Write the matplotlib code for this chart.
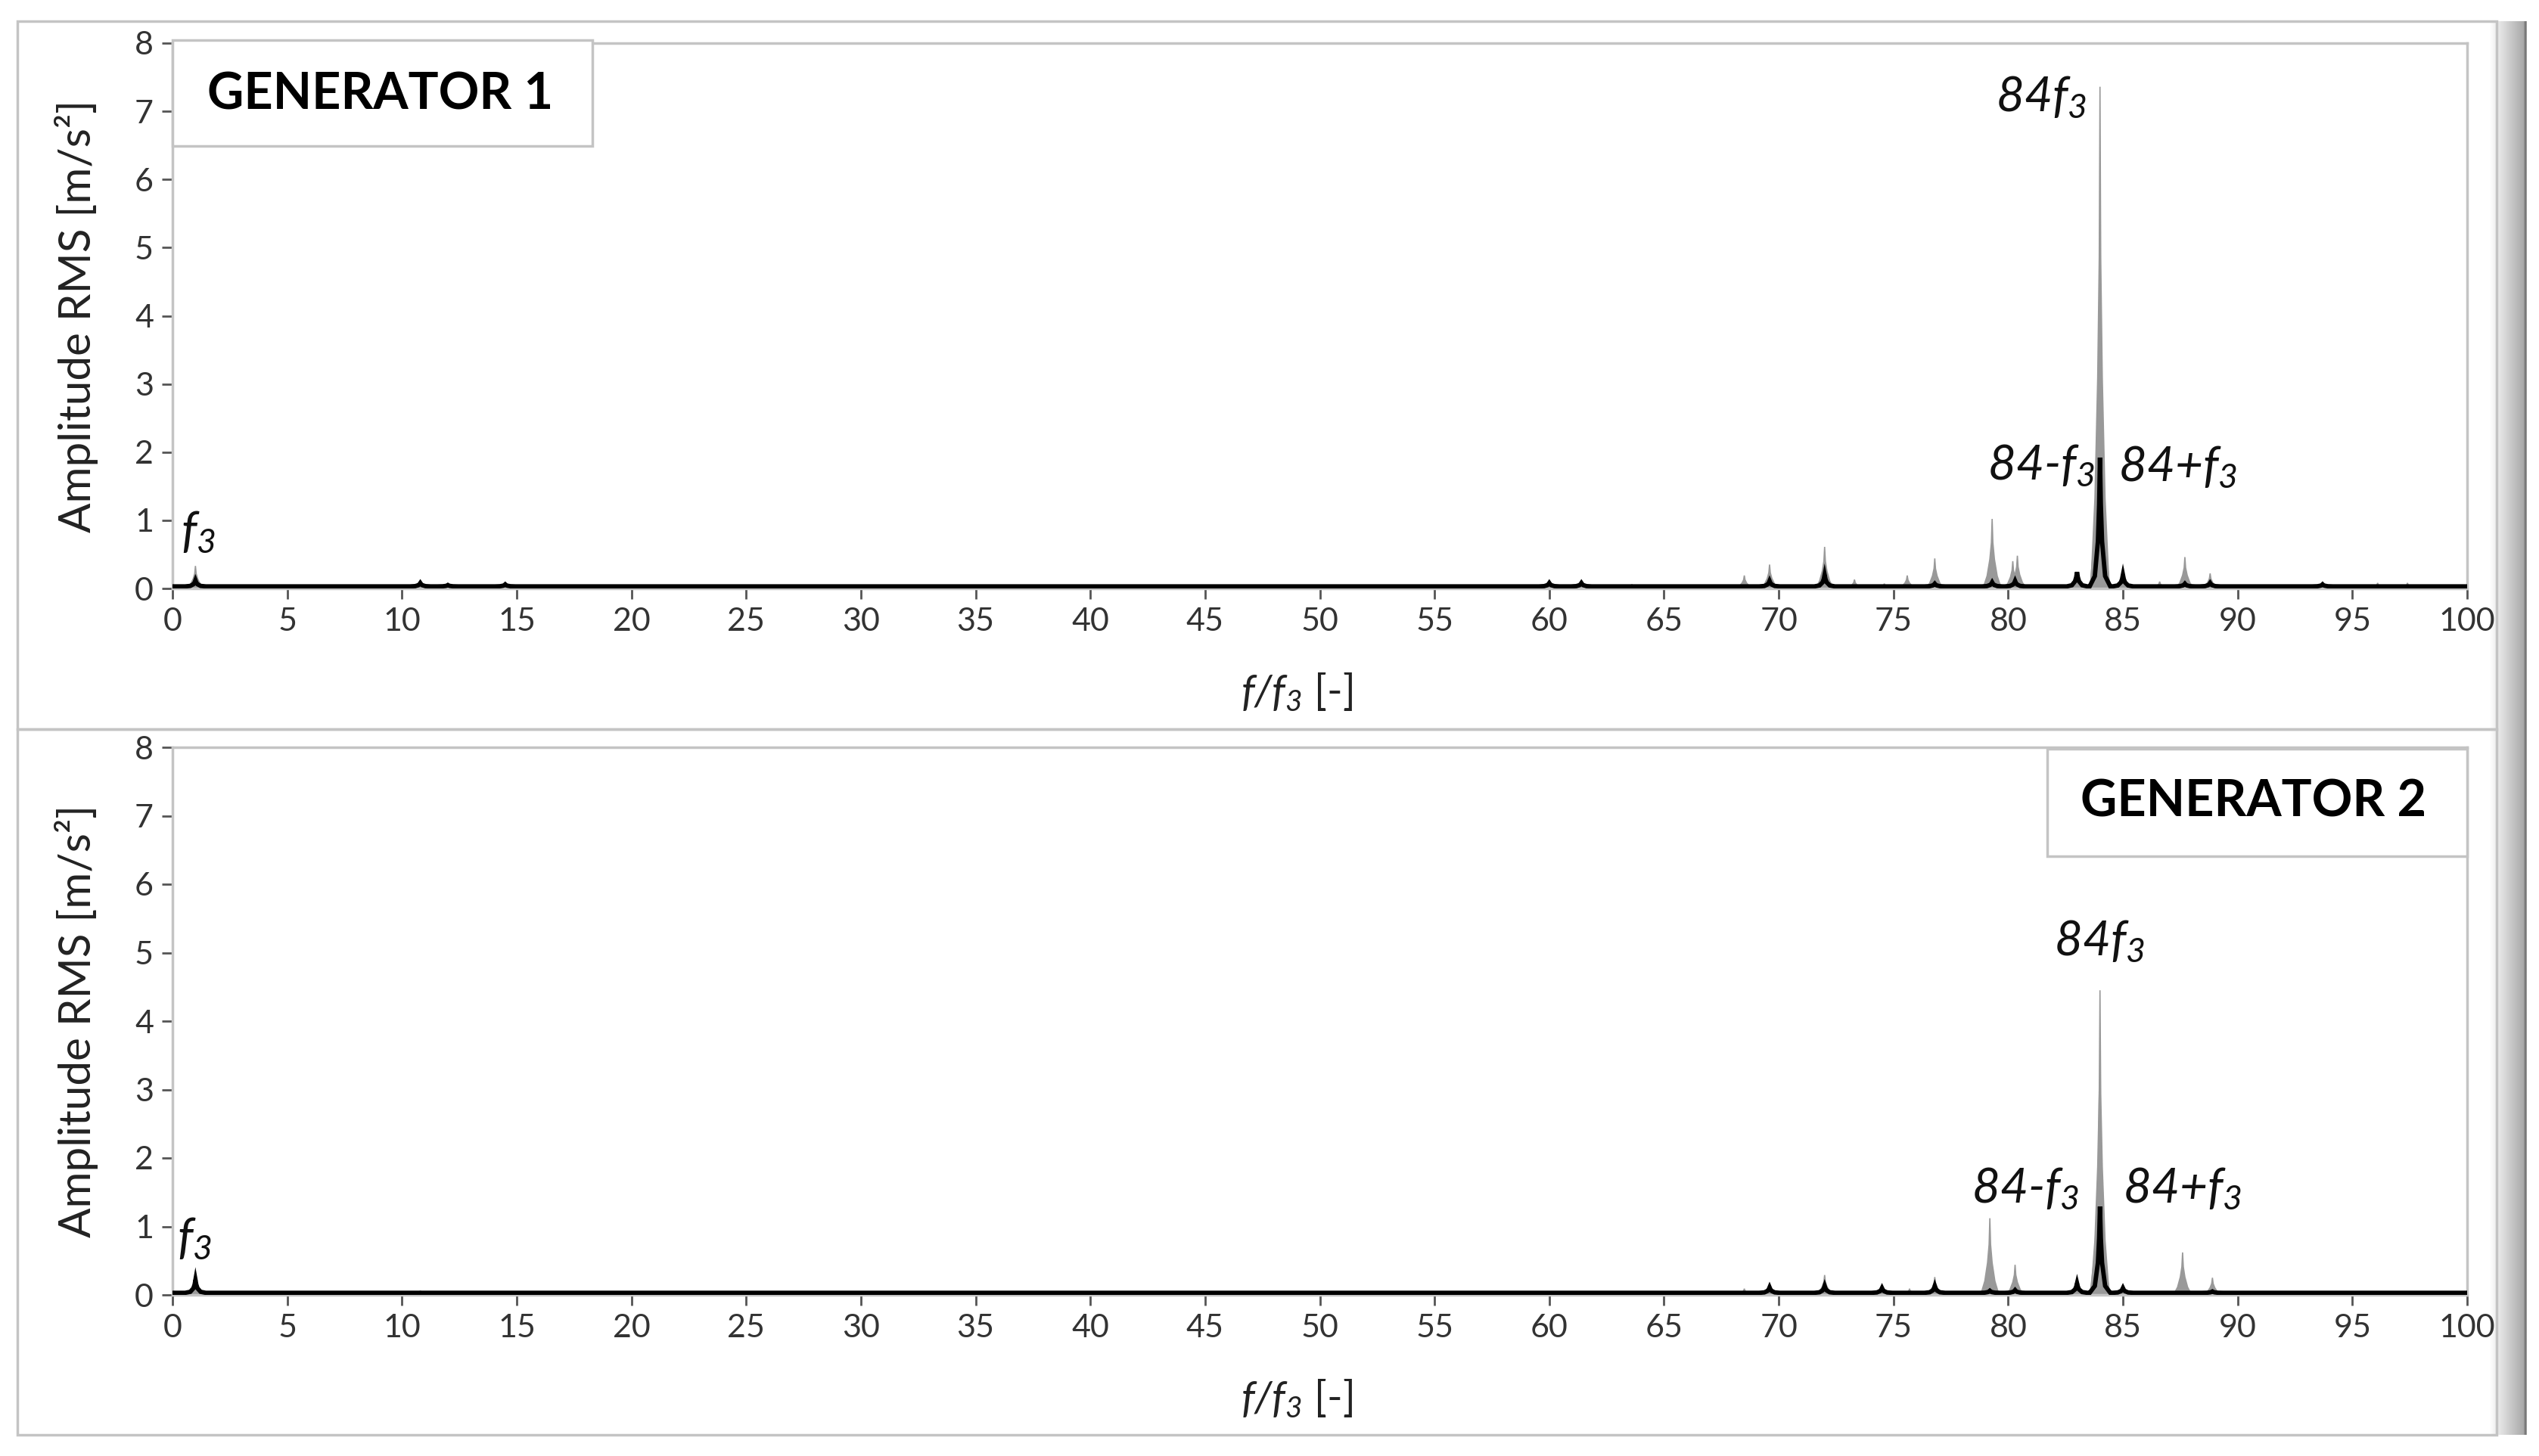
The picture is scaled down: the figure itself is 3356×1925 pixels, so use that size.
import numpy as np
import matplotlib
matplotlib.use("Agg")
import matplotlib.pyplot as plt
from matplotlib.patches import Rectangle

plt.rcParams["font.family"] = ["Lato", "DejaVu Sans"]
plt.rcParams["mathtext.fontset"] = "custom"
plt.rcParams["mathtext.it"] = "Lato:italic"
plt.rcParams["mathtext.rm"] = "Lato:italic"
plt.rcParams["mathtext.sf"] = "Lato:italic"

# ---- data (peak frequency f/f3, RMS amplitude m/s^2) ----
gen1_gray_f = [1.0, 2.0, 3.7, 7.3, 10.8, 12.0, 14.5, 60.0, 61.4, 63.6, 65.0, 67.0,
               68.5, 69.6, 72.0, 73.3, 74.6, 75.6, 76.8, 78.4, 79.3, 80.2, 80.4,
               81.9, 83.0, 83.97, 84.0, 84.04, 85.0, 86.6, 87.7, 88.8, 90.1,
               91.2, 93.7, 96.1, 97.4]
gen1_gray_a = [0.33, 0.05, 0.04, 0.03, 0.10, 0.07, 0.09, 0.10, 0.10, 0.06, 0.05, 0.04,
               0.19, 0.35, 0.61, 0.13, 0.07, 0.19, 0.44, 0.04, 1.02, 0.40, 0.48,
               0.05, 0.24, 4.14, 7.36, 2.82, 0.20, 0.10, 0.46, 0.22, 0.04,
               0.05, 0.10, 0.08, 0.08]
gen1_black_f = [1.0, 10.8, 12.0, 14.5, 60.0, 61.4, 69.6, 72.0, 76.8, 79.3, 80.3,
                83.0, 84.0, 85.0, 87.7, 88.8, 93.7]
gen1_black_a = [0.12, 0.08, 0.05, 0.06, 0.08, 0.08, 0.11, 0.20, 0.07, 0.09, 0.11,
                0.24, 1.92, 0.20, 0.07, 0.08, 0.06]

gen2_gray_f = [1.0, 2.0, 3.7, 7.3, 10.8, 14.5, 60.0, 61.3, 63.6, 64.8, 68.5, 69.6,
               72.0, 73.3, 74.5, 75.7, 76.8, 79.2, 80.3, 82.0, 83.0, 83.97, 84.0,
               84.04, 85.0, 87.6, 88.9, 91.3, 93.7]
gen2_gray_a = [0.30, 0.04, 0.04, 0.04, 0.06, 0.04, 0.05, 0.05, 0.05, 0.05, 0.09, 0.17,
               0.29, 0.05, 0.13, 0.09, 0.26, 1.12, 0.44, 0.04, 0.14, 2.98, 4.45,
               1.97, 0.08, 0.62, 0.25, 0.03, 0.03]
gen2_black_f = [1.0, 69.6, 72.0, 74.5, 76.8, 79.2, 80.3, 83.0, 84.0, 85.0, 88.9]
gen2_black_a = [0.22, 0.11, 0.13, 0.10, 0.13, 0.06, 0.07, 0.17, 1.29, 0.10, 0.05]

x_ticks = list(range(0, 101, 5))
y_ticks = list(range(0, 9))

# peak shape used to draw each spectral line
gray_px = np.array([-1, -0.55, -0.25, -0.08, 0, 0.08, 0.25, 0.55, 1]) * 0.4
gray_py = np.array([0, 0.18, 0.42, 0.66, 1, 0.66, 0.42, 0.18, 0])
black_px = np.array([-1, -0.5, -0.2, -0.08, 0, 0.08, 0.2, 0.5, 1]) * 0.45
black_py = np.array([0, 0.08, 0.35, 0.64, 1, 0.64, 0.35, 0.08, 0])
BASE = 0.03

GRAY = "#999999"
FRAME = "#c4c4c4"
TICKC = "#333333"

W, H = 3356, 1925
fig = plt.figure(figsize=(W / 100, H / 100), dpi=100)


def fx(px):
    return px / W


def fy(py):
    return 1 - py / H


# outer panel frames
for top, bot in [(28, 964), (964, 1897)]:
    fig.patches.append(Rectangle((fx(23), fy(bot)), fx(3300 - 23), (bot - top) / H,
                                 transform=fig.transFigure, fill=False,
                                 edgecolor=FRAME, linewidth=2.5))

# shaded strip on the right edge
sax = fig.add_axes([fx(3290), fy(1897), fx(50), (1897 - 28) / H])
sax.imshow(np.concatenate([np.linspace(1.0, 0.66, 40), [0.5, 0.45, 0.6]])[None, :],
           aspect="auto", cmap="gray", vmin=0, vmax=1)
sax.axis("off")


def draw_panel(ax, gf, ga, bf, ba):
    for f, a in zip(gf, ga):
        ax.fill(f + gray_px, a * gray_py, color=GRAY, lw=1.2, zorder=2)

    xs, ys = [0.0], [BASE]
    for f, a in sorted(zip(bf, ba)):
        xs.extend(f + black_px)
        ys.extend(BASE + (a - BASE) * black_py)
    xs.append(100.0)
    ys.append(BASE)
    ax.plot(xs, ys, color="black", lw=4.2, solid_joinstyle="miter", zorder=3)

    ax.set_xlim(0, 100)
    ax.set_ylim(0, 8)
    ax.set_xticks(x_ticks)
    ax.set_yticks(y_ticks)
    for s in ax.spines.values():
        s.set_color(FRAME)
        s.set_linewidth(2.5)
    ax.tick_params(axis="both", direction="out", length=10, width=2,
                   color="#555555", labelcolor=TICKC, labelsize=31, pad=8)
    ax.set_ylabel("Amplitude RMS [m/s\u00b2]", fontsize=42, color="#222222")
    ax.yaxis.label.set_va("center")
    ax.yaxis.set_label_coords(-0.042, 0.5)
    ax.set_xlabel("$f/f_3$ [-]", fontsize=40, color="#222222")
    ax.xaxis.label.set_va("center")
    ax.xaxis.set_label_coords(0.49, -0.19)


def label(ax, x, y, s, ha):
    ax.text(x, y, s, fontsize=46, fontstyle="italic", ha=ha, va="baseline",
            color="#111111", zorder=5)


def gen_box(ax, x0, y0, x1, y1, tx, ty, s):
    ax.add_patch(Rectangle((x0, y0), x1 - x0, y1 - y0, transform=ax.transAxes,
                           facecolor="white", edgecolor=FRAME, lw=2.5,
                           zorder=6, clip_on=False))
    ax.text(tx, ty, s, transform=ax.transAxes, fontsize=48, fontweight="bold",
            ha="center", va="center", zorder=7)


ax1 = fig.add_axes([fx(228), fy(778), fx(3261 - 228), (778 - 57) / H])
draw_panel(ax1, gen1_gray_f, gen1_gray_a, gen1_black_f, gen1_black_a)
label(ax1, 83.4, 7.0, "84$f_3$", "right")
label(ax1, 83.8, 1.6, "84-$f_3$", "right")
label(ax1, 84.8, 1.58, "84+$f_3$", "left")
label(ax1, 0.36, 0.62, "$f_3$", "left")
gen_box(ax1, 0.0, 0.811, 0.183, 1.005, 0.0905, 0.905, "GENERATOR 1")

ax2 = fig.add_axes([fx(228), fy(1712), fx(3261 - 228), (1712 - 988) / H])
draw_panel(ax2, gen2_gray_f, gen2_gray_a, gen2_black_f, gen2_black_a)
label(ax2, 82.0, 4.96, "84$f_3$", "left")
label(ax2, 83.1, 1.35, "84-$f_3$", "right")
label(ax2, 85.0, 1.35, "84+$f_3$", "left")
label(ax2, 0.2, 0.62, "$f_3$", "left")
gen_box(ax2, 0.817, 0.801, 1.0, 0.997, 0.907, 0.9, "GENERATOR 2")

fig.savefig("out.png", dpi=100)
